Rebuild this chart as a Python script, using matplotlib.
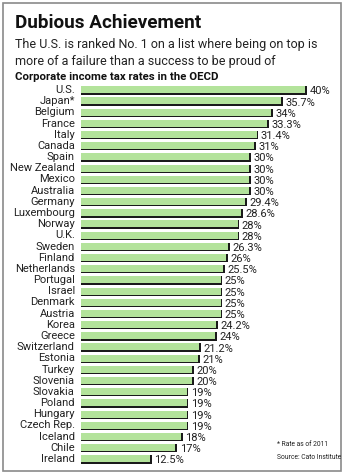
import matplotlib
matplotlib.use("Agg")
import matplotlib.pyplot as plt
from matplotlib import font_manager
from matplotlib.patches import Rectangle

countries = ["U.S.", "Japan*", "Belgium", "France", "Italy", "Canada", "Spain",
             "New Zealand", "Mexico", "Australia", "Germany", "Luxembourg", "Norway",
             "U.K.", "Sweden", "Finland", "Netherlands", "Portugal", "Israel", "Denmark",
             "Austria", "Korea", "Greece", "Switzerland", "Estonia", "Turkey", "Slovenia",
             "Slovakia", "Poland", "Hungary", "Czech Rep.", "Iceland", "Chile", "Ireland"]
rates = [40, 35.7, 34, 33.3, 31.4, 31, 30, 30, 30, 30, 29.4, 28.6, 28, 28, 26.3, 26,
         25.5, 25, 25, 25, 25, 24.2, 24, 21.2, 21, 20, 20, 19, 19, 19, 19, 18, 17, 12.5]
value_labels = ["40%", "35.7%", "34%", "33.3%", "31.4%", "31%", "30%", "30%", "30%", "30%",
                "29.4%", "28.6%", "28%", "28%", "26.3%", "26%", "25.5%", "25%", "25%", "25%",
                "25%", "24.2%", "24%", "21.2%", "21%", "20%", "20%", "19%", "19%", "19%",
                "19%", "18%", "17%", "12.5%"]

title = "Dubious Achievement"
subtitle_lines = ["The U.S. is ranked No. 1 on a list where being on top is",
                  "more of a failure than a success to be proud of"]
chart_title = "Corporate income tax rates in the OECD"
footnote_lines = ["* Rate as of 2011", "Source: Cato Institute"]

avail = {f.name for f in font_manager.fontManager.ttflist}
narrow = "Liberation Sans Narrow" if "Liberation Sans Narrow" in avail else "Roboto"
font = "Roboto"

W, H = 345, 474
fig = plt.figure(figsize=(W / 100, H / 100), dpi=100)
fig.patch.set_facecolor("white")

# border
fig.add_artist(Rectangle((3 / W, 1 - 471 / H), 338 / W, 468 / H, transform=fig.transFigure,
                         fill=False, edgecolor="#8a8a8a", linewidth=1.2))

fig.text(15 / W, 1 - 28 / H, title, fontsize=13.6, fontweight="bold", family=font,
         color="#111111", va="baseline")
for i, line in enumerate(subtitle_lines):
    fig.text(15 / W, 1 - (48 + 16.5 * i) / H, line, fontsize=9.0, family=font,
             color="#222222", va="baseline")
fig.text(15 / W, 1 - 80 / H, chart_title, fontsize=8.2, fontweight="bold", family=narrow,
         color="#111111", va="baseline")

top, bot = 84.4, 464.6
ax = fig.add_axes([81 / W, 1 - bot / H, 226 / W, (bot - top) / H])
ax.set_xlim(0, 40)
n = len(countries)
ax.set_ylim(n - 0.5, -0.5)
ax.axis("off")

ypos = list(range(n))
ax.barh([y + 0.04 for y in ypos], rates, height=0.74, color="#1a1a1a", left=0)
ax.barh([y - 0.02 for y in ypos], [r - 0.3 for r in rates], height=0.62, color="#b3e39b", left=0)

for y, c, r, lab in zip(ypos, countries, rates, value_labels):
    ax.text(-1.1, y, c, ha="right", va="center", fontsize=8.0, family=narrow,
            color="#222222", clip_on=False)
    ax.text(r + 0.45, y + 0.12, lab, ha="left", va="center", fontsize=8.0, family=narrow,
            color="#222222", clip_on=False)

for i, line in enumerate(footnote_lines):
    fig.text(277 / W, 1 - (446 + 13 * i) / H, line, fontsize=4.9, family=narrow,
             color="#222222", va="baseline")

fig.savefig("out.png", dpi=100)
